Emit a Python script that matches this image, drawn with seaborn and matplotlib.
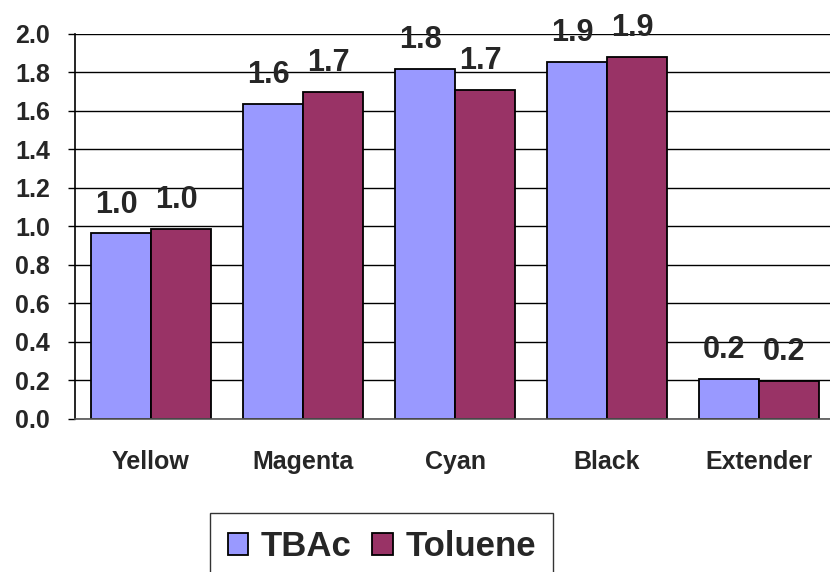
import pandas as pd
import numpy as np
import matplotlib
matplotlib.use('Agg')
import matplotlib.pyplot as plt
import seaborn as sns

# values
pigments = ['Yellow', 'Magenta', 'Cyan', 'Black', 'Extender']
solvents = ['TBAc', 'Toluene']
tbac = [0.963, 1.634, 1.816, 1.854, 0.206]
toluene = [0.986, 1.698, 1.707, 1.878, 0.196]
colors = ['#9999FF', '#993366']
yticks = [0.0, 0.2, 0.4, 0.6, 0.8, 1.0, 1.2, 1.4, 1.6, 1.8, 2.0]

df = pd.DataFrame({
    'pigment': pigments * 2,
    'solvent': ['TBAc'] * len(pigments) + ['Toluene'] * len(pigments),
    'value': tbac + toluene,
})

sns.set_style('white')
plt.rcParams['font.family'] = ['Liberation Sans', 'DejaVu Sans']
plt.rcParams['font.weight'] = 'bold'

fig = plt.figure(figsize=(8.3, 5.72), dpi=100)
ax = fig.add_axes([75 / 830, 1 - 419 / 572, 1 - 75 / 830, (419 - 33.5) / 572])

sns.barplot(data=df, x='pigment', y='value', hue='solvent', hue_order=solvents,
            palette=colors, width=0.79, edgecolor='black', linewidth=1.3,
            saturation=1, ax=ax)

# data labels, slightly left of bar centre like the original
for cont in ax.containers:
    for p in cont:
        h = p.get_height()
        ax.annotate(f'{h:.1f}', (p.get_x() + p.get_width() / 2, h),
                    xytext=(-3.5, 15), textcoords='offset points',
                    ha='center', va='baseline', fontsize=22, fontweight='bold')

ax.set_ylim(0, 2.0)
ax.set_xlim(-0.5, 4.467)
ax.set_yticks(yticks)
ax.set_yticklabels([f'{t:.1f}' for t in yticks], fontsize=18, fontweight='bold')
ax.set_xticks(range(len(pigments)))
ax.set_xticklabels(pigments, fontsize=18, fontweight='bold')
ax.tick_params(axis='y', length=5, width=1, color='black', direction='out', pad=13, left=True)
ax.tick_params(axis='x', length=0, pad=22)
ax.yaxis.grid(True, color='black', linewidth=1)
ax.set_axisbelow(True)
ax.set_xlabel('')
ax.set_ylabel('')

for s in ['top', 'right']:
    ax.spines[s].set_visible(False)
ax.spines['left'].set_color('black')
ax.spines['left'].set_linewidth(1.2)
ax.spines['bottom'].set_color('#555555')
ax.spines['bottom'].set_linewidth(1.2)

handles, labels = ax.get_legend_handles_labels()
ax.legend_.remove()
leg = fig.legend(handles, labels, loc='upper center', bbox_to_anchor=(0.46, 1 - 513 / 572),
                 ncol=2, frameon=True, fancybox=False, prop={'size': 25, 'weight': 'bold'},
                 handlelength=0.6, handleheight=0.6, handletextpad=0.35,
                 columnspacing=0.6, borderpad=0.5, borderaxespad=0, edgecolor='black')
leg.get_frame().set_linewidth(1)
for h in leg.legend_handles:
    h.set_edgecolor('black')
    h.set_linewidth(1.3)

fig.savefig('out.png', dpi=100)
